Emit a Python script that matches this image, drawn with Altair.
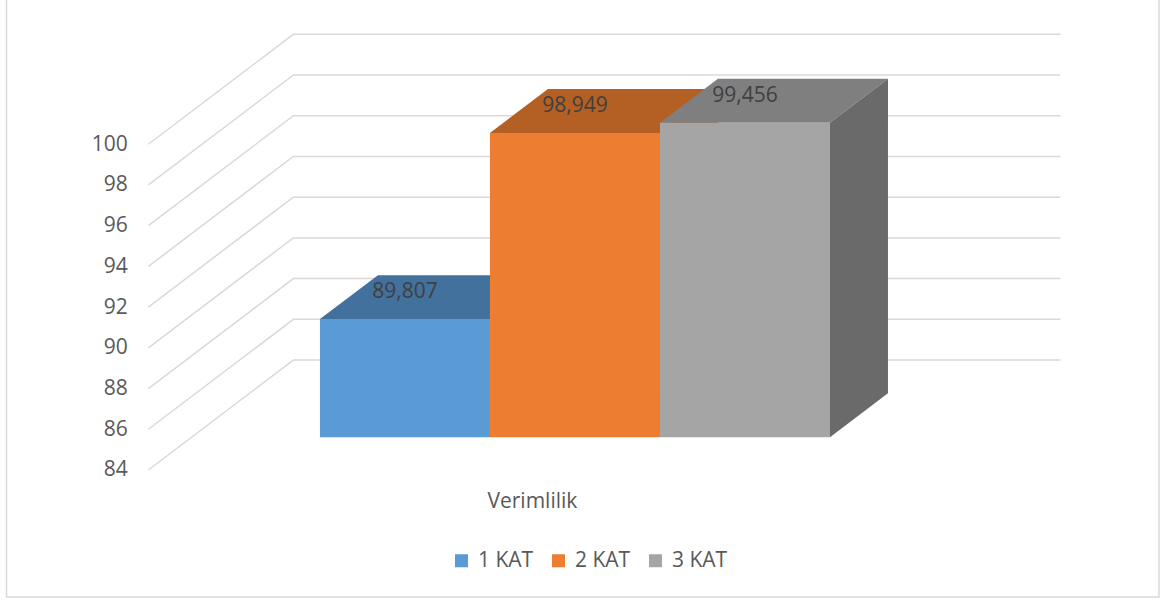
import altair as alt
import pandas as pd

# ---- data -------------------------------------------------------------
categories = ["1 KAT", "2 KAT", "3 KAT"]
values = [89.807, 98.949, 99.456]
tick_values = [84, 86, 88, 90, 92, 94, 96, 98, 100]
category_title = "Verimlilik"

front_colors = ["#5B9BD5", "#ED7D31", "#A5A5A5"]
top_colors = ["#41719C", "#B45F23", "#7F7F7F"]
side_colors = ["#3D6A94", "#A65620", "#6A6A6A"]

# ---- pseudo-3D projection --------------------------------------------
# x is measured in bar slots (one bar = 1), y in value units.
# Moving one full depth step shifts DEPTH_X slots right and DEPTH_Y units up.
BASE = 84
GAP = 0.756          # floor margin on each side of the bar group (slots)
DEPTH_X = 0.853
DEPTH_Y = 5.40
T_FRONT = 0.297      # depth of the bars' front faces
T_BACK = 0.697       # depth of the bars' back faces

W, H = 1154, 598
X_DOMAIN = [-1.5935, 5.1947]
Y_DOMAIN = [77.713, 107.084]


def x_px(u):
    return (u - X_DOMAIN[0]) * W / (X_DOMAIN[1] - X_DOMAIN[0])


def y_px(v):
    return (Y_DOMAIN[1] - v) * H / (Y_DOMAIN[1] - Y_DOMAIN[0])


FONT = "Open Sans"
FONT_SIZE = 21
LABEL_COLOR = "#595959"
GRID_COLOR = "#D9D9D9"

x_scale = alt.Scale(domain=X_DOMAIN, nice=False, zero=False)
y_scale = alt.Scale(domain=Y_DOMAIN, nice=False, zero=False)

x_axis = alt.Axis(
    orient="bottom", offset=-(H - y_px(BASE)), labels=False, ticks=False,
    domain=False, grid=False, title=category_title, titleFont=FONT,
    titleFontSize=FONT_SIZE, titleFontWeight="normal", titleColor=LABEL_COLOR,
    titleX=x_px(1.5), titleAlign="center", titlePadding=21,
)
y_axis = alt.Axis(
    orient="left", offset=-x_px(-GAP), values=tick_values, ticks=False,
    domain=False, grid=False, title="", labelFont=FONT, labelFontSize=FONT_SIZE,
    labelColor=LABEL_COLOR, labelPadding=21,
)


def X(field):
    return alt.X(field, type="quantitative", scale=x_scale, axis=x_axis)


def Y(field):
    return alt.Y(field, type="quantitative", scale=y_scale, axis=y_axis)


# ---- tables built from the arrays ------------------------------------
grid_rows = []
for v in tick_values:
    grid_rows += [
        {"tick": v, "order": 0, "x": -GAP, "y": v},
        {"tick": v, "order": 1, "x": -GAP + DEPTH_X, "y": v + DEPTH_Y},
        {"tick": v, "order": 2, "x": 3 + GAP + DEPTH_X, "y": v + DEPTH_Y},
    ]
grid_df = pd.DataFrame(grid_rows)

front_rows, top_rows, side_rows, label_rows = [], [], [], []
for k, (cat, v) in enumerate(zip(categories, values)):
    front_rows.append({
        "idx": k, "cat": cat,
        "xl": k + T_FRONT * DEPTH_X, "xr": k + 1 + T_FRONT * DEPTH_X,
        "ylo": BASE + T_FRONT * DEPTH_Y, "yhi": v + T_FRONT * DEPTH_Y,
    })
    for t in (T_FRONT, T_BACK):
        top_rows.append({
            "idx": k, "y": v + t * DEPTH_Y,
            "xl": k + t * DEPTH_X, "xr": k + 1 + t * DEPTH_X,
        })
        side_rows.append({
            "idx": k, "x": k + 1 + t * DEPTH_X,
            "ylo": BASE + t * DEPTH_Y, "yhi": v + t * DEPTH_Y,
        })
    label_rows.append({
        "idx": k, "value": v,
        "x": k + 0.5 + T_FRONT * DEPTH_X,
        "y": v + (T_FRONT + T_BACK) / 2 * DEPTH_Y,
    })

front_df = pd.DataFrame(front_rows)
top_df = pd.DataFrame(top_rows)
side_df = pd.DataFrame(side_rows)
label_df = pd.DataFrame(label_rows)

# ---- layers -----------------------------------------------------------
frame = alt.Chart(pd.DataFrame({"f": [0]})).mark_rect(
    fill="transparent", stroke=GRID_COLOR, strokeWidth=1.5
).encode(
    x=alt.value(0.5), x2=alt.value(W - 1), y=alt.value(-5), y2=alt.value(H - 1)
)

grid = alt.Chart(grid_df).mark_line(color=GRID_COLOR, strokeWidth=1.5).encode(
    x=X("x"), y=Y("y"), detail="tick:N", order="order:Q"
)

layers = [frame, grid]
for k in range(len(categories)):
    top = alt.Chart(top_df[top_df.idx == k]).mark_area(
        orient="horizontal", color=top_colors[k]
    ).encode(y=Y("y"), x=X("xl"), x2="xr")
    front = alt.Chart(front_df[front_df.idx == k]).mark_rect().encode(
        x=X("xl"), x2="xr", y=Y("ylo"), y2="yhi",
        color=alt.Color(
            "cat:N",
            scale=alt.Scale(domain=categories, range=front_colors),
            legend=alt.Legend(
                title=None, orient="none", direction="horizontal",
                legendX=445, legendY=550, symbolType="square",
                symbolSize=169, symbolStrokeWidth=0, labelFont=FONT,
                labelFontSize=FONT_SIZE, labelColor=LABEL_COLOR, labelOffset=6,
                columnPadding=14, padding=0,
            ),
        ),
    )
    side = alt.Chart(side_df[side_df.idx == k]).mark_area(
        orient="vertical", color=side_colors[k]
    ).encode(x=X("x"), y=Y("ylo"), y2="yhi")
    layers += [top, front, side]

labels = alt.Chart(label_df).transform_calculate(
    txt="replace(format(datum.value, '.3f'), '.', ',')"
).mark_text(
    font=FONT, fontSize=FONT_SIZE, color="#404040", baseline="middle", dy=-5
).encode(x=X("x"), y=Y("y"), text="txt:N")
layers.append(labels)

chart = alt.layer(*layers).properties(
    width=W, height=H,
    autosize=alt.AutoSizeParams(type="none"),
    padding={"left": 6, "top": 0, "right": 11, "bottom": 3},
    background="white",
).configure_view(stroke="transparent")

chart.save("out.html", embed_options={"renderer": "svg", "actions": False})
